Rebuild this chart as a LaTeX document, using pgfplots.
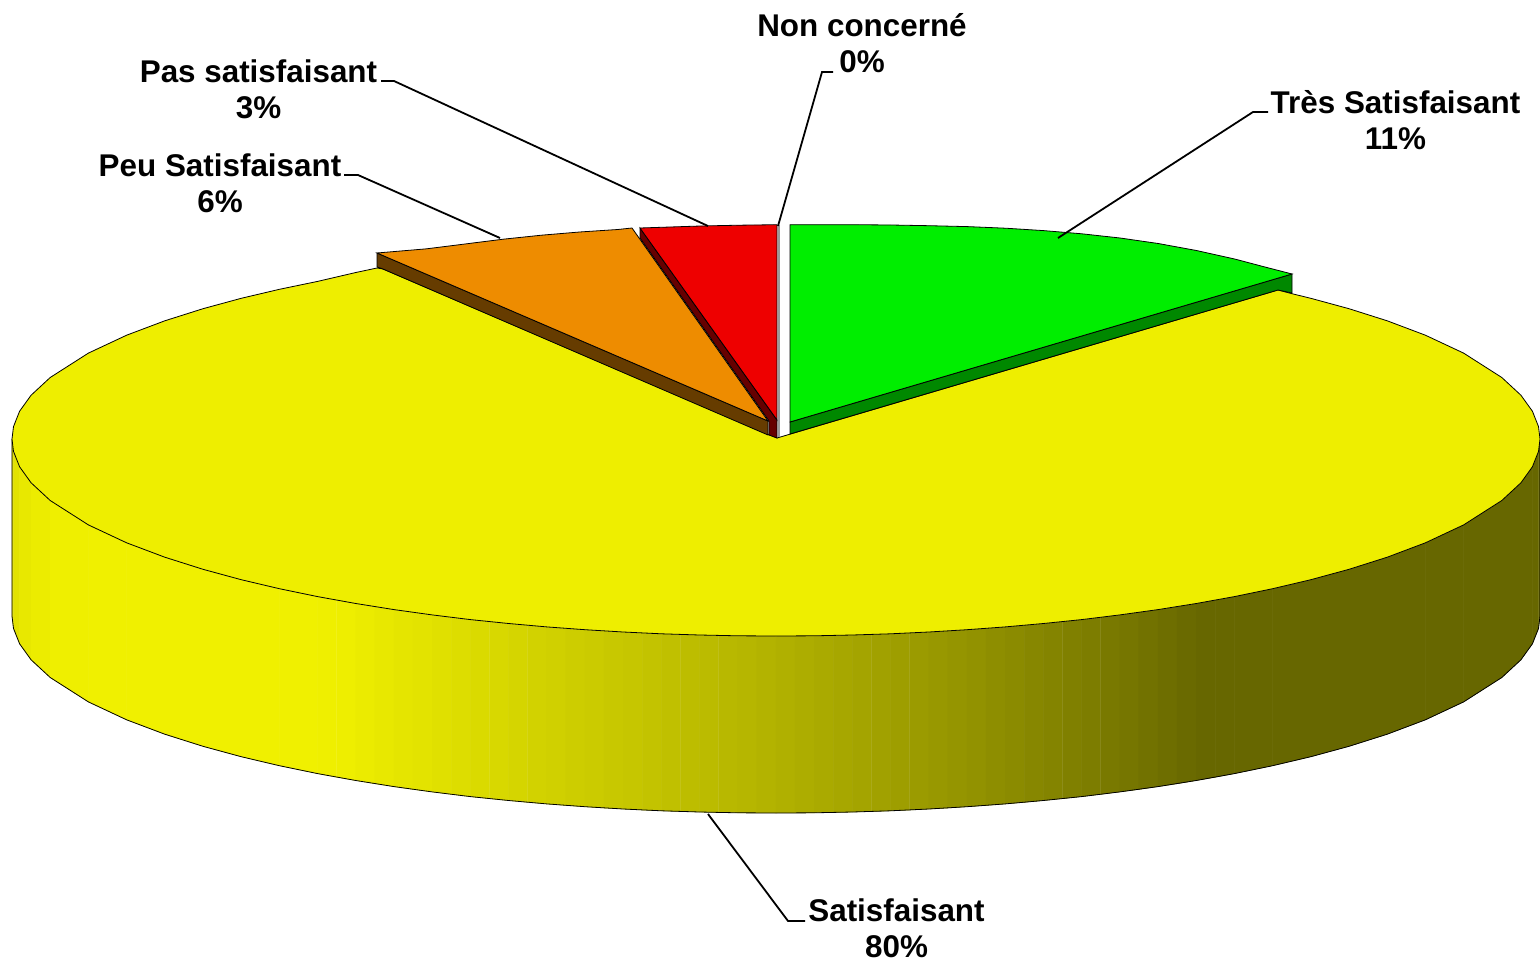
\documentclass[border=0pt]{standalone}
\usepackage{pgfplots}
\pgfplotsset{compat=1.18}
\usepackage{fontspec}
\setmainfont{Liberation Sans}
\definecolor{cyel}{RGB}{238,238,0}
\definecolor{cgrn}{RGB}{0,238,0}
\definecolor{cred}{RGB}{238,0,0}
\definecolor{corg}{RGB}{238,140,0}
\definecolor{cbrn}{RGB}{102,60,0}
\definecolor{cdrd}{RGB}{102,0,0}
\definecolor{cdgr}{RGB}{0,136,0}
\tikzset{lbl/.style={font=\fontsize{31.4}{36}\bfseries\selectfont, align=center, inner sep=0pt, text=black}}
\begin{document}
\begin{tikzpicture}[x=1pt,y=1pt]
\useasboundingbox (0,0) rectangle (1540,963);
\begin{axis}[
  at={(0,0)}, anchor=south west,
  scale only axis, width=1540pt, height=963pt,
  xmin=0, xmax=1540, ymin=0, ymax=963, y dir=reverse,
  hide axis, clip=true,
  colormap={yb}{rgb255=(0,0,0) rgb255=(255,255,0)},
  point meta min=0, point meta max=255,
]
% side of the Satisfaisant slice
\addplot[patch, patch type=rectangle, shader=flat, point meta=explicit,
  table/row sep=\\,
  patch table={
0 1 3 2\\ 2 3 5 4\\ 4 5 7 6\\ 6 7 9 8\\ 8 9 11 10\\ 10 11 13 12\\ 12 13 15 14\\ 14 15 17 16\\
16 17 19 18\\ 18 19 21 20\\ 20 21 23 22\\ 22 23 25 24\\ 24 25 27 26\\ 26 27 29 28\\ 28 29 31 30\\
30 31 33 32\\ 32 33 35 34\\ 34 35 37 36\\ 36 37 39 38\\ 38 39 41 40\\ 40 41 43 42\\ 42 43 45 44\\
44 45 47 46\\ 46 47 49 48\\ 48 49 51 50\\ 50 51 53 52\\ 52 53 55 54\\ 54 55 57 56\\ 56 57 59 58\\
58 59 61 60\\ 60 61 63 62\\ 62 63 65 64\\ 64 65 67 66\\ 66 67 69 68\\ 68 69 71 70\\ 70 71 73 72\\
72 73 75 74\\ 74 75 77 76\\ 76 77 79 78\\ 78 79 81 80\\ 80 81 83 82\\ 82 83 85 84\\ 84 85 87 86\\
86 87 89 88\\ 88 89 91 90\\ 90 91 93 92\\ 92 93 95 94\\ 94 95 97 96\\ 96 97 99 98\\ 98 99 101 100\\
100 101 103 102\\ 102 103 105 104\\ 104 105 107 106\\ 106 107 109 108\\ 108 109 111 110\\ 110 111 113 112\\
112 113 115 114\\ 114 115 117 116\\ 116 117 119 118\\ 118 119 121 120\\ 120 121 123 122\\ 122 123 125 124\\
124 125 127 126\\ 126 127 129 128\\ 128 129 131 130\\ 130 131 133 132\\ 132 133 135 134\\ 134 135 137 136\\
136 137 139 138\\ 138 139 141 140\\
  }]
 table[x=x,y=y,meta=m]{
x y m\\
12 439 215\\ 12 616 215\\
13.5 451.4 220\\ 13.5 628.4 220\\
19.6 466.8 228\\ 19.6 643.8 228\\
31.1 482.8 233\\ 31.1 659.8 233\\
50.2 500.5 236\\ 50.2 677.5 236\\
88.4 524.9 238\\ 88.4 701.9 238\\
126.6 542.8 238\\ 126.6 719.8 238\\
164.8 557.2 238\\ 164.8 734.2 238\\
203 569.3 238\\ 203 746.3 238\\
241.2 579.7 238\\ 241.2 756.7 238\\
279.4 588.7 238\\ 279.4 765.7 238\\
317.6 596.6 238\\ 317.6 773.6 238\\
336.7 600.2 237\\ 336.7 777.2 237\\
355.8 603.5 235\\ 355.8 780.5 235\\
374.9 606.7 232\\ 374.9 783.7 232\\
394 609.6 229\\ 394 786.6 229\\
413.1 612.4 226\\ 413.1 789.4 226\\
432.2 614.9 224\\ 432.2 791.9 224\\
451.3 617.3 221\\ 451.3 794.3 221\\
470.4 619.6 218\\ 470.4 796.6 218\\
489.5 621.6 215\\ 489.5 798.6 215\\
508.6 623.5 213\\ 508.6 800.5 213\\
527.7 625.3 210\\ 527.7 802.3 210\\
546.8 626.9 208\\ 546.8 803.9 208\\
565.9 628.4 205\\ 565.9 805.4 205\\
585 629.7 203\\ 585 806.7 203\\
604.1 631 200\\ 604.1 808 200\\
623.2 632 198\\ 623.2 809 198\\
642.3 633 195\\ 642.3 810 195\\
661.4 633.8 192\\ 661.4 810.8 192\\
680.5 634.5 189\\ 680.5 811.5 189\\
699.6 635 187\\ 699.6 812 187\\
718.7 635.4 184\\ 718.7 812.4 184\\
737.8 635.8 182\\ 737.8 812.8 182\\
756.9 635.9 179\\ 756.9 812.9 179\\
776 636 177\\ 776 813 177\\
795.1 635.9 173\\ 795.1 812.9 173\\
814.2 635.8 170\\ 814.2 812.8 170\\
833.3 635.4 167\\ 833.3 812.4 167\\
852.4 635 165\\ 852.4 812 165\\
871.5 634.5 161\\ 871.5 811.5 161\\
890.6 633.8 158\\ 890.6 810.8 158\\
909.7 633 155\\ 909.7 810 155\\
928.8 632 152\\ 928.8 809 152\\
947.9 631 149\\ 947.9 808 149\\
967 629.7 146\\ 967 806.7 146\\
986.1 628.4 143\\ 986.1 805.4 143\\
1005.2 626.9 140\\ 1005.2 803.9 140\\
1024.3 625.3 136\\ 1024.3 802.3 136\\
1043.4 623.5 133\\ 1043.4 800.5 133\\
1062.5 621.6 129\\ 1062.5 798.6 129\\
1081.6 619.6 126\\ 1081.6 796.6 126\\
1100.7 617.3 122\\ 1100.7 794.3 122\\
1119.8 614.9 119\\ 1119.8 791.9 119\\
1138.9 612.4 115\\ 1138.9 789.4 115\\
1158 609.6 112\\ 1158 786.6 112\\
1177.1 606.7 107\\ 1177.1 783.7 107\\
1196.2 603.5 103\\ 1196.2 780.5 103\\
1215.3 600.2 102\\ 1215.3 777.2 102\\
1234.4 596.6 102\\ 1234.4 773.6 102\\
1272.6 588.7 102\\ 1272.6 765.7 102\\
1310.8 579.7 102\\ 1310.8 756.7 102\\
1349 569.3 102\\ 1349 746.3 102\\
1387.2 557.2 102\\ 1387.2 734.2 102\\
1425.4 542.8 102\\ 1425.4 719.8 102\\
1463.6 524.9 102\\ 1463.6 701.9 102\\
1501.8 500.5 102\\ 1501.8 677.5 102\\
1520.9 482.8 102\\ 1520.9 659.8 102\\
1532.4 466.8 102\\ 1532.4 643.8 102\\
1538.5 451.4 102\\ 1538.5 628.4 102\\
1540 439 102\\ 1540 616 102\\
};
% outline of that side
\addplot[black, line width=0.8pt] coordinates {
(12,439)(12,616)(13.5,628.4)(19.6,643.8)(31.1,659.8)(50.2,677.5)(88.4,701.9)(126.6,719.8)(164.8,734.2)(203,746.3)(241.2,756.7)(279.4,765.7)(317.6,773.6)(355.8,780.5)(394,786.6)(432.2,791.9)(470.4,796.6)(508.6,800.5)(546.8,803.9)(585,806.7)(623.2,809)(661.4,810.8)(699.6,812)(737.8,812.8)(776,813)(814.2,812.8)(852.4,812)(890.6,810.8)(928.8,809)(967,806.7)(1005.2,803.9)(1043.4,800.5)(1081.6,796.6)(1119.8,791.9)(1158,786.6)(1196.2,780.5)(1234.4,773.6)(1272.6,765.7)(1310.8,756.7)(1349,746.3)(1387.2,734.2)(1425.4,719.8)(1463.6,701.9)(1501.8,677.5)(1520.9,659.8)(1532.4,643.8)(1538.5,628.4)(1540,616)(1540,439)};
% top of the Satisfaisant slice
\addplot[fill=cyel, draw=black, line width=0.8pt] coordinates {
(777,438)(1278,290)(1292,293.7)(1310.8,298.3)(1349,308.7)(1387.2,320.8)(1425.4,335.2)(1463.6,353.1)(1501.8,377.5)(1520.9,395.2)(1532.4,411.2)(1538.5,426.6)(1540,439)
(1538.5,451.4)(1532.4,466.8)(1520.9,482.8)(1501.8,500.5)(1463.6,524.9)(1425.4,542.8)(1387.2,557.2)(1349,569.3)(1310.8,579.7)(1272.6,588.7)(1234.4,596.6)(1196.2,603.5)(1158,609.6)(1119.8,614.9)(1081.6,619.6)(1043.4,623.5)(1005.2,626.9)(967,629.7)(928.8,632)(890.6,633.8)(852.4,635)(814.2,635.8)(776,636)
(737.8,635.8)(699.6,635)(661.4,633.8)(623.2,632)(585,629.7)(546.8,626.9)(508.6,623.5)(470.4,619.6)(432.2,614.9)(394,609.6)(355.8,603.5)(317.6,596.6)(279.4,588.7)(241.2,579.7)(203,569.3)(164.8,557.2)(126.6,542.8)(88.4,524.9)(50.2,500.5)(31.1,482.8)(19.6,466.8)(13.5,451.4)(12,439)
(13.5,426.6)(19.6,411.2)(31.1,395.2)(50.2,377.5)(88.4,353.1)(126.6,335.2)(164.8,320.8)(203,308.7)(241.2,298.3)(279.4,289.3)(317.6,281.4)(355.8,272.5)(377,268)(383,269)
} -- cycle;
% Tres Satisfaisant
\addplot[fill=cdgr, draw=black, line width=0.8pt] coordinates {(790,422)(1292,274)(1292,293)(1278,290)(790,434)} -- cycle;
\addplot[fill=cgrn, draw=black, line width=0.8pt] coordinates {
(790,422)(1292,274)(1263,266.5)(1234.6,259)(1196.4,250.5)(1158.2,243.5)(1120,238)(1081.8,233.8)(1043.6,230.6)(1005.4,228.2)(967.2,226.6)(929,225.7)(890.8,225)(852.6,224.7)(790,224.7)
} -- cycle;
% Non concerne
\addplot[gray!80, line width=2pt] coordinates {(779,225)(779,437)};
% Pas satisfaisant
\addplot[fill=cdrd, draw=black, line width=0.8pt] coordinates {(640,228)(777,420)(777,438)(769,435)(769,421)(640,238)} -- cycle;
\addplot[fill=cred, draw=black, line width=0.8pt] coordinates {(640,228)(777,420)(777,224.7)(738.8,225.2)(700.6,226)} -- cycle;
% Peu Satisfaisant
\addplot[fill=cbrn, draw=black, line width=0.8pt] coordinates {(377,253)(768,421)(768,435)(383,269)(377,267)} -- cycle;
\addplot[fill=corg, draw=black, line width=0.8pt] coordinates {(377,253)(768,421)(632,228)(617.8,229.5)(579.6,232)(541.4,235.2)(503.2,239.2)(465,244)(426.8,248.8)} -- cycle;
% leader lines
\addplot[black, line width=1.8pt] coordinates {(381,81)(394,81)(708,226)};
\addplot[black, line width=1.8pt] coordinates {(833,72)(822,72)(778,226)};
\addplot[black, line width=1.8pt] coordinates {(1268,112)(1253,112)(1058,238)};
\addplot[black, line width=1.8pt] coordinates {(344,175)(358,175)(500,238)};
\addplot[black, line width=1.8pt] coordinates {(805,921)(788,921)(708,814)};
% labels
\node[lbl] at (axis cs:862,43.5) {Non concerné\\0\%};
\node[lbl] at (axis cs:258.5,89) {Pas satisfaisant\\3\%};
\node[lbl] at (axis cs:220,183) {Peu Satisfaisant\\6\%};
\node[lbl] at (axis cs:1395.5,120) {Très Satisfaisant\\11\%};
\node[lbl] at (axis cs:896.5,928) {Satisfaisant\\80\%};
\end{axis}
\end{tikzpicture}
\end{document}
